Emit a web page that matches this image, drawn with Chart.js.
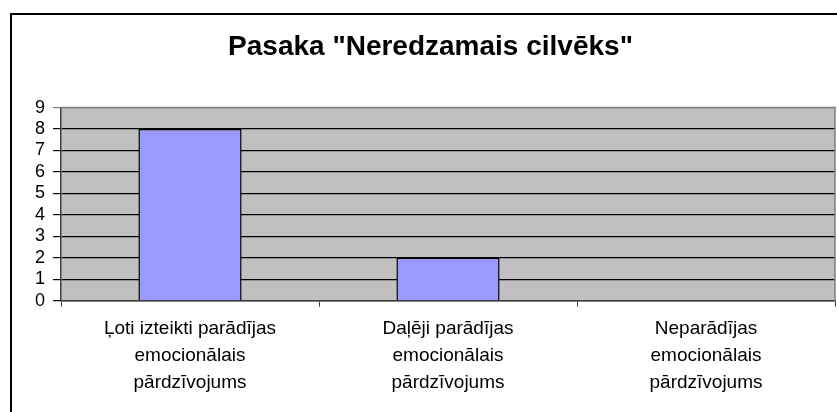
<!DOCTYPE html>
<html>
<head>
<meta charset="utf-8">
<script src="https://cdn.jsdelivr.net/npm/chart.js@4"></script>
<style>
  html, body { margin: 0; padding: 0; background: #fff; overflow: hidden; }
  #box { position: absolute; left: 10px; top: 13px; width: 837px; height: 400px; border: 2px solid #000; }
  #myChart { display: block; }
</style>
</head>
<body>
<div id="box"><canvas id="myChart" width="837" height="400"></canvas></div>
<script>
let categories = [
    ["Ļoti izteikti parādījas", "emocionālais", "pārdzīvojums"],
    ["Daļēji parādījas", "emocionālais", "pārdzīvojums"],
    ["Neparādījas", "emocionālais", "pārdzīvojums"]
];
let values = [8, 2, 0];
let yTicks = [0, 1, 2, 3, 4, 5, 6, 7, 8, 9];

// grey plot background + top/right frame
let plotBg = {
    id: 'plotBg',
    beforeDraw(chart) {
        let a = chart.chartArea, c = chart.ctx;
        c.save();
        c.fillStyle = '#c0c0c0';
        c.fillRect(a.left, a.top, a.right - a.left, a.bottom - a.top);
        c.restore();
    },
    afterDatasetsDraw(chart) {
        let a = chart.chartArea, c = chart.ctx;
        c.save();
        c.strokeStyle = '#808080';
        c.lineWidth = 1.5;
        c.beginPath();
        c.moveTo(a.left, a.top);
        c.lineTo(a.right, a.top);
        c.lineTo(a.right, a.bottom);
        c.stroke();
        c.restore();
    }
};

let ctx = document.getElementById("myChart").getContext('2d');
let chart1 = new Chart(ctx, {
    type: 'bar',
    data: {
        labels: categories,
        datasets: [{
            data: values,
            backgroundColor: '#9999ff',
            borderColor: '#000',
            borderWidth: 1.5,
            barPercentage: 0.4,
            categoryPercentage: 1
        }]
    },
    options: {
        responsive: false,
        animation: false,
        layout: { padding: { left: 14, right: 14, top: 0, bottom: 0 } },
        plugins: {
            legend: { display: false },
            tooltip: { enabled: false },
            title: {
                display: true,
                text: 'Pasaka "Neredzamais cilvēks"',
                color: '#000',
                font: { family: 'Liberation Sans, Arial', size: 28, weight: 'bold' },
                padding: { top: 15, bottom: 44 }
            }
        },
        scales: {
            x: {
                grid: { display: true, drawOnChartArea: false, drawTicks: true, tickLength: 6, color: '#404040', offset: true },
                border: { color: '#404040', width: 1.5 },
                ticks: {
                    color: '#000',
                    font: { family: 'Liberation Sans, Arial', size: 19, lineHeight: 1.42 },
                    padding: 9,
                    maxRotation: 0,
                    autoSkip: false
                },
                afterFit(s) { s.height = 400 - 285.7; }
            },
            y: {
                min: 0,
                max: yTicks[yTicks.length - 1],
                afterBuildTicks(s) { s.ticks = yTicks.map(v => ({ value: v })); },
                grid: {
                    color: c => c.tick && c.tick.value === 9 ? '#808080' : '#000',
                    tickLength: 8,
                    lineWidth: 1.2
                },
                border: { color: '#404040', width: 1.5 },
                ticks: {
                    color: '#000',
                    font: { family: 'Liberation Sans, Arial', size: 18, lineHeight: 1.1 },
                    padding: 8,
                    autoSkip: false
                },
                afterFit(s) { s.width = 35; }
            }
        }
    },
    plugins: [plotBg]
});
</script>
</body>
</html>
